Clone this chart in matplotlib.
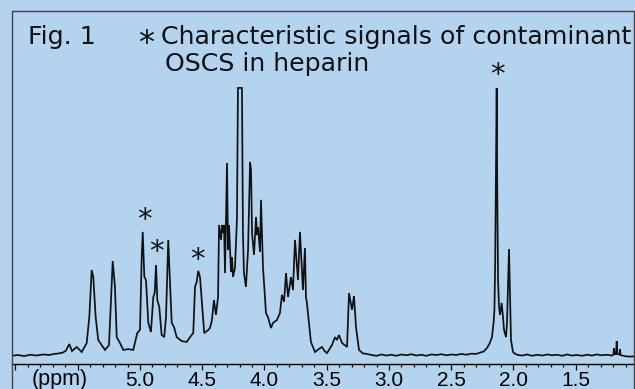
import matplotlib
matplotlib.use('Agg')
import matplotlib.pyplot as plt
from matplotlib.patches import Rectangle

# 1H NMR trace (ppm, relative intensity, tallest peak = 100)
ppm_a = [6.03, 5.98, 5.93, 5.88, 5.83, 5.78, 5.73, 5.69, 5.65, 5.62, 5.595, 5.568, 5.546,
         5.508, 5.468, 5.428, 5.407, 5.388, 5.375, 5.356, 5.335, 5.308, 5.281, 5.249, 5.233,
         5.219, 5.201, 5.187, 5.161, 5.134, 5.094, 5.054, 5.022, 5.000]
int_a = [-0.3, 0.0, -0.4, 0.1, -0.2, 0.2, 0.0, 0.4, 0.6, 0.9, 1.6, 4.1, 1.5,
         3.0, 1.1, 4.5, 14.2, 31.8, 29.2, 14.2, 5.6, 3.7, 1.9, 3.7, 20.6,
         35.2, 25.5, 6.7, 4.5, 1.9, 2.2, 1.9, 8.2, 9.4]

ppm_b = [4.986, 4.978, 4.965, 4.952, 4.933, 4.912, 4.893, 4.882, 4.871, 4.861, 4.845, 4.826,
         4.805, 4.791, 4.773, 4.759, 4.745, 4.727, 4.705, 4.665, 4.625, 4.585, 4.572, 4.558,
         4.545, 4.532, 4.518, 4.504, 4.484, 4.451, 4.438, 4.422, 4.406, 4.390, 4.373]
int_b = [36.7, 46.1, 29.2, 28.1, 12.0, 8.6, 21.7, 23.2, 33.7, 20.6, 18.0, 7.5,
         6.7, 14.2, 43.1, 27.0, 12.0, 10.5, 6.7, 5.2, 4.9, 7.5, 8.2, 25.5,
         27.3, 31.5, 29.2, 20.6, 8.2, 9.4, 10.1, 13.1, 20.6, 15.0, 21.7]

ppm_c = [4.365, 4.349, 4.341, 4.333, 4.325, 4.317, 4.301, 4.293, 4.285, 4.269, 4.261, 4.253,
         4.237, 4.221, 4.213, 4.181, 4.173, 4.165, 4.149, 4.132, 4.116, 4.108, 4.100, 4.084,
         4.068, 4.060, 4.052, 4.036, 4.028, 4.012, 3.988, 3.972, 3.948, 3.932, 3.900, 3.876,
         3.860, 3.843, 3.827, 3.811, 3.787, 3.771, 3.755, 3.731, 3.715, 3.691, 3.675, 3.667,
         3.659, 3.651, 3.627]
int_c = [48.7, 43.1, 48.7, 45.7, 48.7, 30.7, 71.9, 39.3, 48.7, 31.1, 36.7, 29.2,
         32.6, 51.3, 100.0, 100.0, 45.7, 30.7, 25.5, 39.3, 72.3, 69.3, 45.7, 37.5,
         51.7, 44.9, 47.9, 38.6, 58.1, 33.0, 15.7, 14.2, 10.1, 12.0, 13.1, 15.7,
         22.5, 19.9, 30.7, 21.7, 29.2, 24.3, 43.1, 28.1, 46.1, 24.3, 40.1, 21.7,
         19.5, 15.7, 4.9]

ppm_d = [3.594, 3.565, 3.538, 3.518, 3.498, 3.458, 3.434, 3.418, 3.402, 3.377, 3.337, 3.321,
         3.297, 3.281, 3.265, 3.241, 3.210, 3.177]
int_d = [1.1, 2.2, 3.0, 1.5, 0.7, 3.7, 6.7, 5.6, 7.5, 4.5, 3.0, 23.2,
         16.9, 22.1, 10.5, 1.9, 0.6, 0.4]

ppm_e = [3.14, 3.10, 3.06, 3.02, 2.98, 2.94, 2.90, 2.86, 2.82, 2.78, 2.74, 2.70,
         2.66, 2.62, 2.58, 2.54, 2.50, 2.46, 2.42, 2.38, 2.34, 2.30, 2.269]
int_e = [0.0, -0.3, 0.2, -0.2, 0.1, -0.3, 0.2, -0.1, 0.3, -0.2, 0.1, -0.3,
         0.2, 0.0, 0.3, -0.1, 0.2, 0.0, 0.4, 0.1, 0.5, 0.4, 0.9]

ppm_f = [2.240, 2.213, 2.190, 2.173, 2.160, 2.153, 2.147, 2.141, 2.135, 2.130, 2.124, 2.116,
         2.108, 2.095, 2.084, 2.076, 2.060, 2.052, 2.036, 2.020, 2.004, 1.985, 1.964]
int_f = [1.3, 2.6, 4.5, 6.7, 12.0, 17.0, 35.0, 70.0, 100.0, 60.0, 28.0, 18.0,
         15.0, 19.5, 14.2, 9.4, 6.7, 12.0, 39.7, 5.6, 1.1, 0.4, 0.0]

ppm_g = [1.93, 1.89, 1.85, 1.81, 1.77, 1.73, 1.69, 1.65, 1.61, 1.57, 1.53, 1.49,
         1.45, 1.41, 1.37, 1.33, 1.29, 1.25, 1.21, 1.197, 1.193, 1.188, 1.176, 1.171,
         1.166, 1.148, 1.145, 1.140, 1.11, 1.07, 1.032]
int_g = [-0.2, 0.2, -0.3, 0.1, -0.2, 0.2, -0.1, 0.1, -0.3, 0.2, -0.2, 0.0,
         -0.3, 0.1, -0.2, 0.2, -0.1, 0.1, -0.2, 0.2, 2.6, 0.3, 0.4, 5.2,
         0.4, 0.2, 2.2, 0.0, -0.4, -0.6, -0.5]

ppm = ppm_a + ppm_b + ppm_c + ppm_d + ppm_e + ppm_f + ppm_g
intensity = int_a + int_b + int_c + int_d + int_e + int_f + int_g

# OSCS signals marked with an asterisk
star_ppm = [4.968, 4.871, 4.542, 2.133]
star_int = [50.4, 38.6, 35.7, 105.0]

major_ticks = [6.0, 5.5, 5.0, 4.5, 4.0, 3.5, 3.0, 2.5, 2.0, 1.5]
tick_labels = ['', '', '5.0', '4.5', '4.0', '3.5', '3.0', '2.5', '2.0', '1.5']

W, H = 635, 389
bg = '#b4d3ef'

fig = plt.figure(figsize=(W / 100, H / 100), dpi=100, facecolor=bg)
# axes box in pixels: x 11.5..634, y 10.5..364
ax = fig.add_axes([11.5 / W, (H - 364) / H, (634 - 11.5) / W, (364 - 10.5) / H])
ax.set_facecolor('none')

ax.plot(ppm, intensity, color='#111111', lw=1.25, solid_joinstyle='miter')

for x, y in zip(star_ppm, star_int):
    ax.text(x, y, '*', ha='center', va='center', fontsize=21,
            family='DejaVu Sans', color='#111111')

ax.set_xlim(6.032, 1.032)
ax.set_ylim(-3.37, 129.0)

for s in ['top', 'left', 'right']:
    ax.spines[s].set_visible(False)
ax.spines['bottom'].set_linewidth(1.0)
ax.set_yticks([])
ax.set_xticks(major_ticks)
ax.set_xticklabels(tick_labels, family='Liberation Sans', fontsize=15)
ax.set_xticks([round(1.1 + 0.1 * i, 1) for i in range(50)], minor=True)
ax.tick_params(axis='x', which='major', direction='out', length=4.5, width=0.9, pad=0.3)
ax.tick_params(axis='x', which='minor', direction='out', length=2.5, width=0.9)

ax.text(5.643, -0.0145, '(ppm)', transform=ax.get_xaxis_transform(), ha='center', va='top',
        family='Liberation Sans', fontsize=15.5)

# outer frame (runs off the bottom of the image)
fig.patches.append(Rectangle((11.5 / W, -0.2), (634 - 11.5) / W, 1.2 - 10.5 / H,
                             transform=fig.transFigure, fill=False,
                             edgecolor='#444444', lw=1.0))

tfont = dict(family='DejaVu Sans', fontsize=18.2, color='#111111', va='baseline')
fig.text(28 / W, 1 - 44 / H, 'Fig. 1', **tfont)
fig.text(138 / W, 1 - 52 / H, '*', family='DejaVu Sans', fontsize=23, color='#111111',
         va='baseline')
fig.text(161 / W, 1 - 44 / H, 'Characteristic signals of contaminant', **tfont)
fig.text(165 / W, 1 - 71.5 / H, 'OSCS in heparin', **tfont)

fig.savefig('out.png', dpi=100, facecolor=bg)
